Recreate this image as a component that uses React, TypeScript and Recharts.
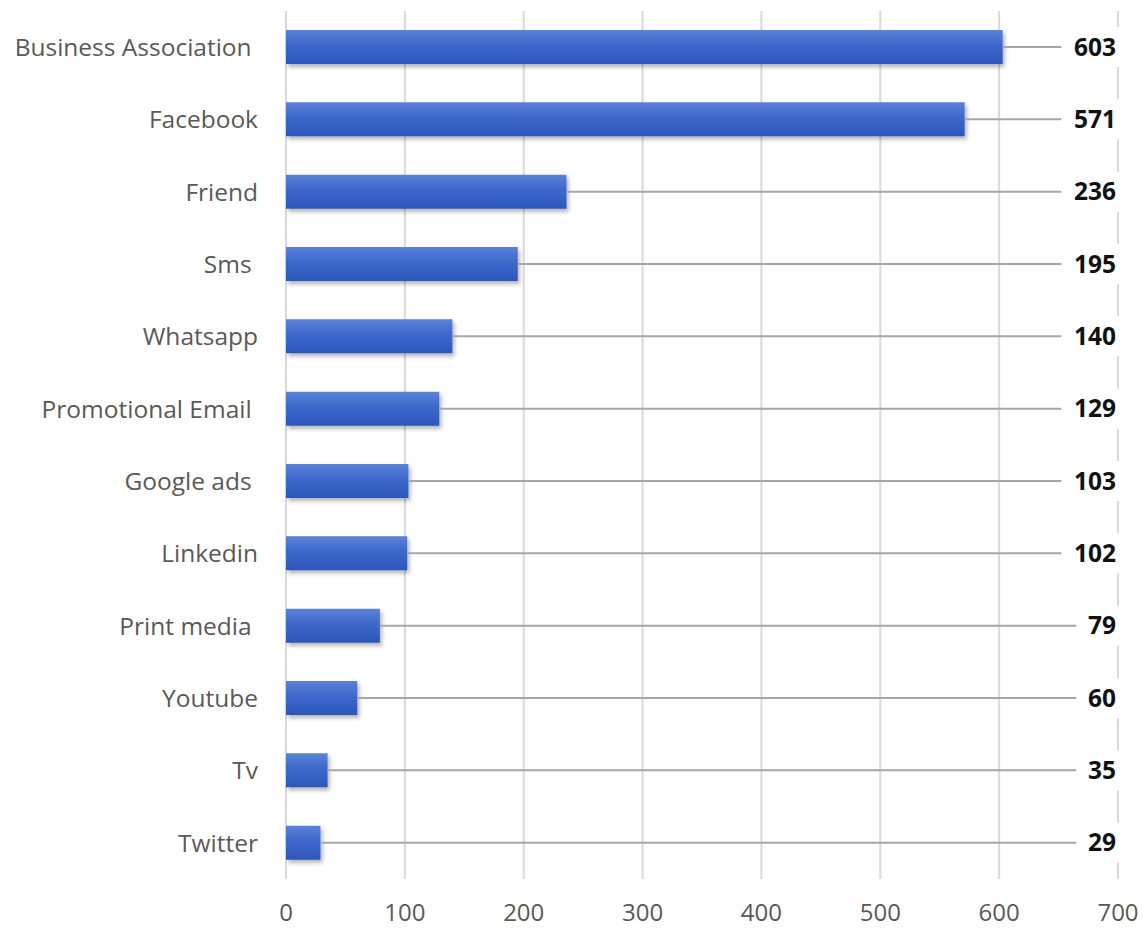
import { Bar, BarChart, CartesianGrid, LabelList, XAxis, YAxis } from "recharts";

const CATEGORIES = [
  "Business Association ",
  "Facebook",
  "Friend",
  "Sms ",
  "Whatsapp",
  "Promotional Email ",
  "Google ads ",
  "Linkedin",
  "Print media ",
  "Youtube",
  "Tv",
  "Twitter",
];
const VALUES = [603, 571, 236, 195, 140, 129, 103, 102, 79, 60, 35, 29];
const X_TICKS = [0, 100, 200, 300, 400, 500, 600, 700];

const CHART_W = 1143;
const CHART_H = 930;
const MARGIN = { top: 11, right: 25, bottom: 0, left: 0 };
const FONT = "'Open Sans', sans-serif";
const TEXT_COLOR = "#595959";
const GRID_COLOR = "#d9d9d9";
const LEADER_COLOR = "#a6a6a6";
const LABEL_RIGHT = CHART_W - MARGIN.right - 2;

const data = CATEGORIES.map((name, i) => ({ name, value: VALUES[i] }));

function CategoryTick(props: any) {
  const { x, y, payload } = props;
  return (
    <text
      x={x}
      y={y}
      dy="0.355em"
      textAnchor="end"
      fill={TEXT_COLOR}
      fontSize={24.5}
      fontFamily={FONT}
      style={{ whiteSpace: "pre" }}
    >
      {payload.value}
    </text>
  );
}

function ValueLabel(props: any) {
  const { x, y, width, height, value } = props;
  const cy = y + height / 2;
  const textW = String(value).length * 14.8;
  const boxLeft = LABEL_RIGHT - textW - 10;
  return (
    <g>
      <line x1={x + width} y1={cy} x2={boxLeft} y2={cy} stroke={LEADER_COLOR} strokeWidth={2} />
      <rect x={boxLeft} y={cy - 20} width={textW + 20} height={40} fill="#fff" />
      <text
        x={LABEL_RIGHT}
        y={cy}
        dy="0.355em"
        textAnchor="end"
        fill="#111"
        fontSize={24.5}
        fontWeight={700}
        fontFamily={FONT}
      >
        {value}
      </text>
    </g>
  );
}

export default function App() {
  return (
    <div style={{ position: "absolute", left: 0, top: 0, background: "#fff" }}>
      <BarChart
        width={CHART_W}
        height={CHART_H}
        data={data}
        layout="vertical"
        margin={MARGIN}
        barCategoryGap={0}
      >
        <defs>
          <linearGradient id="barFill" x1="0" y1="0" x2="0" y2="1">
            <stop offset="0%" stopColor="#5b82d8" />
            <stop offset="45%" stopColor="#3d68cb" />
            <stop offset="100%" stopColor="#2c56bb" />
          </linearGradient>
          <filter id="barShadow" x="-10%" y="-20%" width="130%" height="160%">
            <feDropShadow dx="2" dy="3" stdDeviation="2" floodColor="#000" floodOpacity="0.3" />
          </filter>
        </defs>
        <CartesianGrid horizontal={false} stroke={GRID_COLOR} strokeWidth={2} />
        <XAxis
          type="number"
          domain={[0, 700]}
          ticks={X_TICKS}
          axisLine={false}
          tickLine={false}
          tickMargin={19}
          height={51}
          tick={{ fill: TEXT_COLOR, fontSize: 24, fontFamily: FONT }}
          interval={0}
        />
        <YAxis
          type="category"
          dataKey="name"
          width={286}
          axisLine={false}
          tickLine={false}
          tickMargin={22}
          tick={<CategoryTick />}
          interval={0}
        />
        <Bar
          dataKey="value"
          barSize={34}
          fill="url(#barFill)"
          filter="url(#barShadow)"
          isAnimationActive={false}
        >
          <LabelList dataKey="value" content={<ValueLabel />} />
        </Bar>
      </BarChart>
    </div>
  );
}
